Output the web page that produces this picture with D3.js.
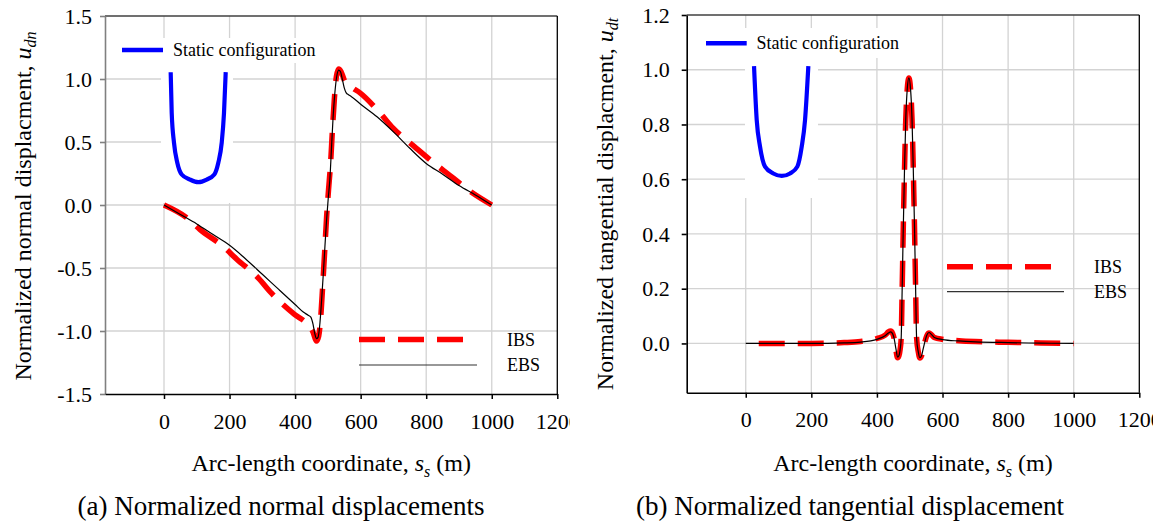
<!DOCTYPE html>
<html><head><meta charset="utf-8">
<script src="https://cdn.jsdelivr.net/npm/d3@7"></script>
<style>
body{margin:0;background:#fff}
text{font-family:"Liberation Serif","Times New Roman",serif;fill:#000}
</style>
</head><body>
<svg id="c" width="1164" height="525"></svg>
<script>
// ---------- data ----------
const xTicks = [0, 200, 400, 600, 800, 1000, 1200];
const yTicksNormal = [-1.5, -1.0, -0.5, 0.0, 0.5, 1.0, 1.5];
const yTicksTangential = [0.0, 0.2, 0.4, 0.6, 0.8, 1.0, 1.2];

// (a) normal displacement
const ibsNormalS = [0,69,110,181,222,288,328,399,439,455,465,472,478,484,490,496,502,508,514,520,526,533,540,546,552,575,598,659,699,770,811,882,928,1000];
const ibsNormalU = [0,-0.10,-0.195,-0.33,-0.43,-0.58,-0.70,-0.87,-0.95,-1.01,-1.08,-1.04,-0.90,-0.65,-0.38,-0.10,0.12,0.32,0.60,0.85,1.02,1.08,1.06,1.02,0.98,0.93,0.89,0.73,0.61,0.45,0.36,0.215,0.12,0];
const ebsNormalS = [0,50,100,150,200,250,300,350,400,425,440,448,455,460,465,470,476,481,486,491,496,501,506,511,516,521,527,533,538,544,550,556,563,572,600,650,700,750,800,850,900,950,1000];
const ebsNormalU = [0,-0.075,-0.15,-0.235,-0.32,-0.43,-0.55,-0.67,-0.79,-0.85,-0.875,-0.89,-0.95,-1.02,-1.06,-1.05,-0.93,-0.75,-0.55,-0.33,-0.12,0.05,0.20,0.45,0.70,0.88,1.02,1.07,1.06,1.00,0.93,0.89,0.875,0.86,0.80,0.70,0.58,0.45,0.33,0.245,0.155,0.08,0];
const staticNormalS = [20.4,23.5,30.5,40.6,54,79.3,104.7,130.3,153.5,165.7,176.1,183.1,188.3];
const staticNormalU = [1.054,0.732,0.494,0.335,0.242,0.202,0.181,0.202,0.242,0.335,0.494,0.732,1.054];

// (b) tangential displacement
const ibsTangS = [0,100,200,300,350,400,425,435,442,448,453,458,463,467,471,474,477,480,484,488,492.5,497.5,502.5,507,511,515,518,521,526,531,536,541,546,552,559,566,575,600,650,700,800,900,1000];
const ibsTangU = [0,0,0,0.003,0.007,0.018,0.03,0.042,0.045,0.036,0.015,-0.025,-0.052,-0.045,-0.02,0.02,0.2,0.4,0.63,0.82,0.93,0.97,0.93,0.82,0.63,0.4,0.2,0.02,-0.03,-0.053,-0.045,-0.02,0.005,0.028,0.038,0.032,0.022,0.015,0.01,0.007,0.004,0.002,0];
const ebsTangS = [0,100,200,300,350,400,425,435,442,448,453,458,463,467,471,474,477,480,484,488,492.5,497.5,502.5,507,511,515,518,521,526,531,536,541,546,552,559,566,575,600,650,700,800,900,1000];
const ebsTangU = [0,0,0,0.002,0.005,0.015,0.028,0.038,0.042,0.035,0.015,-0.02,-0.05,-0.045,-0.02,0.02,0.2,0.4,0.63,0.82,0.93,0.97,0.93,0.82,0.63,0.4,0.2,0.02,-0.03,-0.052,-0.045,-0.02,0.005,0.03,0.04,0.033,0.022,0.014,0.009,0.006,0.003,0.001,0];
const staticTangS = [25.3,33.5,43.6,58.8,84.1,109.8,135,157.3,170.7,180.8,190.9];
const staticTangU = [1.013,0.816,0.719,0.646,0.621,0.612,0.621,0.646,0.719,0.816,1.013];

// ---------- drawing ----------
const FONT = '"Liberation Serif","Times New Roman",serif';
const svg = d3.select("#c");
svg.append("rect").attr("width",1164).attr("height",525).attr("fill","#fff");
const defs = svg.append("defs");

function zip(a,b){ return a.map((v,i)=>[v,b[i]]); }
const fmt1 = d => d3.format(".1f")(d).replace("\u2212","-");

function panel(cfg){
  const id = cfg.id;
  defs.append("clipPath").attr("id","clip"+id).append("rect")
    .attr("x",cfg.clipX0).attr("y",0).attr("width",cfg.clipX1-cfg.clipX0).attr("height",525);
  const g = svg.append("g").attr("clip-path",`url(#clip${id})`);
  const x = d3.scaleLinear().domain([-180,1200]).range([cfg.x0,cfg.x1]);
  const y = d3.scaleLinear().domain(cfg.yDomain).range([cfg.y1,cfg.y0]);

  // grid
  const grid = g.append("g").attr("stroke","#d3d3d3").attr("stroke-width",1.3);
  xTicks.filter(t=>t<1200).forEach(t=>{
    grid.append("line").attr("x1",x(t)).attr("x2",x(t)).attr("y1",cfg.y0).attr("y2",cfg.y1);
  });
  cfg.yTicks.filter(t=>y(t)>cfg.y0+1 && y(t)<cfg.y1-1).forEach(t=>{
    grid.append("line").attr("x1",cfg.x0).attr("x2",cfg.x1).attr("y1",y(t)).attr("y2",y(t));
  });

  // white backgrounds of legend and inset picture
  cfg.boxes.forEach(b=>{
    g.append("rect").attr("x",b[0]).attr("y",b[1]).attr("width",b[2]-b[0]).attr("height",b[3]-b[1]).attr("fill","#fff");
  });

  // frame
  g.append("line").attr("x1",cfg.x0).attr("x2",cfg.x1).attr("y1",cfg.y0).attr("y2",cfg.y0).attr("stroke","#404040").attr("stroke-width",1.3);
  g.append("line").attr("x1",cfg.x1).attr("x2",cfg.x1).attr("y1",cfg.y0).attr("y2",cfg.y1).attr("stroke","#000").attr("stroke-width",1.3);

  // axes
  const ya = g.append("g").attr("transform",`translate(${cfg.x0},0)`)
    .call(d3.axisLeft(y).tickValues(cfg.yTicks).tickFormat(fmt1).tickSize(5).tickSizeOuter(0).tickPadding(cfg.yPad));
  ya.attr("font-family",null).attr("font-size",null);
  ya.selectAll("path,line").attr("stroke",cfg.yAxisColor).attr("stroke-width",1.6);
  ya.selectAll("text").style("font-family",FONT).style("font-size","22px").attr("fill","#111");
  const xa = g.append("g").attr("transform",`translate(0,${cfg.y1})`)
    .call(d3.axisBottom(x).tickValues(xTicks).tickFormat(d3.format("d")).tickSize(5).tickSizeOuter(0).tickPadding(14));
  xa.attr("font-family",null).attr("font-size",null);
  xa.selectAll("path,line").attr("stroke","#000").attr("stroke-width",1.5);
  xa.selectAll("text").style("font-family",FONT).style("font-size","22px").attr("fill","#111");

  const line = d3.line().x(d=>x(d[0])).y(d=>y(d[1])).curve(d3.curveMonotoneX);

  // static configuration inset
  g.append("path").attr("d",line(zip(cfg.staticS,cfg.staticU))).attr("fill","none")
    .attr("stroke","#0000ff").attr("stroke-width",4.2).attr("stroke-linejoin","round");

  // IBS dashed
  g.append("path").attr("d",line(zip(cfg.ibsS,cfg.ibsU))).attr("fill","none")
    .attr("stroke","#ff0000").attr("stroke-width",5.5).attr("stroke-dasharray","26,13")
    .attr("stroke-dashoffset",cfg.dashOffset);
  // EBS solid
  g.append("path").attr("d",line(zip(cfg.ebsS,cfg.ebsU))).attr("fill","none")
    .attr("stroke","#000").attr("stroke-width",1.2);

  // legend: static configuration
  const L = cfg.legStatic;
  g.append("line").attr("x1",L[0]).attr("x2",L[1]).attr("y1",L[2]).attr("y2",L[2]).attr("stroke","#0000ff").attr("stroke-width",4.5);
  g.append("text").attr("x",L[3]).attr("y",L[2]+6).attr("font-size",18).text("Static configuration");

  // legend: IBS / EBS
  const M = cfg.legIE;
  g.append("line").attr("x1",M[0]).attr("x2",M[0]+104).attr("y1",M[2]).attr("y2",M[2])
    .attr("stroke","#ff0000").attr("stroke-width",5.5).attr("stroke-dasharray","26,13");
  g.append("line").attr("x1",M[0]).attr("x2",M[1]).attr("y1",M[3]).attr("y2",M[3])
    .attr("stroke","#333").attr("stroke-width",1.2);
  g.append("text").attr("x",M[4]).attr("y",M[2]+6).attr("font-size",18).text("IBS");
  g.append("text").attr("x",M[4]).attr("y",M[3]+6).attr("font-size",18).text("EBS");

  // y title
  const yt = svg.append("text").attr("transform",`translate(${cfg.yTitleX},${cfg.yTitleY}) rotate(-90)`)
    .attr("text-anchor","middle").attr("font-size",24);
  yt.append("tspan").text(cfg.yTitle);
  yt.append("tspan").attr("font-style","italic").text("u");
  yt.append("tspan").attr("font-style","italic").attr("font-size",16).attr("dy",5).text(cfg.yTitleSub);

  // x title
  const xt = svg.append("text").attr("x",(cfg.x0+cfg.x1)/2).attr("y",471).attr("text-anchor","middle").attr("font-size",24);
  xt.append("tspan").text("Arc-length coordinate, ");
  xt.append("tspan").attr("font-style","italic").text("s");
  xt.append("tspan").attr("font-style","italic").attr("font-size",16).attr("dy",6).text("s");
  xt.append("tspan").attr("dy",-6).text(" (m)");

  // caption
  svg.append("text").attr("x",cfg.capX).attr("y",515).attr("text-anchor","middle").attr("font-size",27).text(cfg.caption);
}

panel({
  id:"a", clipX0:0, clipX1:570, x0:105, x1:557.3, y0:16, y1:394, yDomain:[-1.5,1.5],
  yTicks:yTicksNormal, yPad:8, yAxisColor:"#808080",
  boxes:[[115,38,325,63],[161,63,233,203]],
  staticS:staticNormalS, staticU:staticNormalU,
  ibsS:ibsNormalS, ibsU:ibsNormalU, ebsS:ebsNormalS, ebsU:ebsNormalU, dashOffset:0,
  legStatic:[122,163,50,173], legIE:[359,477,339.5,365,507],
  yTitle:"Normalized normal displacment, ", yTitleSub:"dn", yTitleX:31, yTitleY:206,
  caption:"(a) Normalized normal displacements", capX:281
});
panel({
  id:"b", clipX0:580, clipX1:1153, x0:686.7, x1:1139.3, y0:15, y1:392.7, yDomain:[-0.18,1.2],
  yTicks:yTicksTangential, yPad:12, yAxisColor:"#000",
  boxes:[[700,28,905,58],[745,58,818,198]],
  staticS:staticTangS, staticU:staticTangU,
  ibsS:ibsTangS, ibsU:ibsTangU, ebsS:ebsTangS, ebsU:ebsTangU, dashOffset:26,
  legStatic:[706,746.7,43.3,756.5], legIE:[947,1064,266.7,291.7,1094],
  yTitle:"Normalized tangential displacment, ", yTitleSub:"dt", yTitleX:613, yTitleY:204,
  caption:"(b) Normalized tangential displacement", capX:850
});
</script>
</body></html>
